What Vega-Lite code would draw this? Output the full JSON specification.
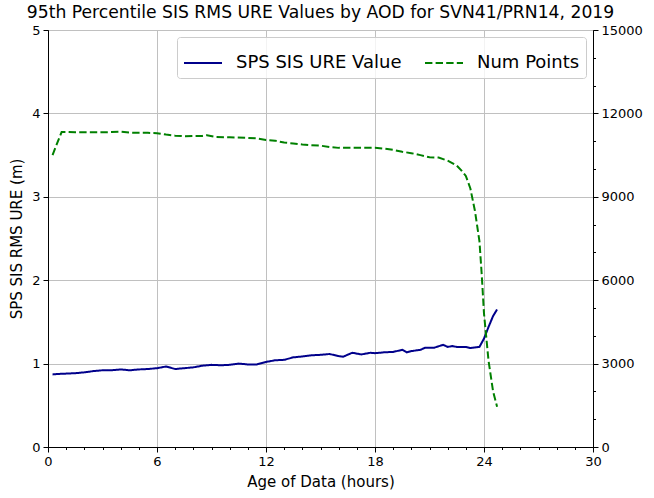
{
  "$schema": "https://vega.github.io/schema/vega-lite/v6.json",
  "width": 545,
  "height": 417,
  "autosize": {"type": "none"},
  "padding": {"left": 48, "top": 30, "right": 61, "bottom": 51},
  "title": {"text": "95th Percentile SIS RMS URE Values by AOD for SVN41/PRN14, 2019", "fontSize": 17.2, "fontWeight": "normal", "font": "DejaVu Sans", "color": "black", "anchor": "middle", "offset": 3},
  "datasets": {
    "ure": [
      {"h": 0.25, "v": 0.87, "series": "SPS SIS URE Value"},
      {"h": 0.5, "v": 0.875, "series": "SPS SIS URE Value"},
      {"h": 1.0, "v": 0.88, "series": "SPS SIS URE Value"},
      {"h": 1.5, "v": 0.885, "series": "SPS SIS URE Value"},
      {"h": 2.0, "v": 0.895, "series": "SPS SIS URE Value"},
      {"h": 2.5, "v": 0.91, "series": "SPS SIS URE Value"},
      {"h": 3.0, "v": 0.92, "series": "SPS SIS URE Value"},
      {"h": 3.5, "v": 0.92, "series": "SPS SIS URE Value"},
      {"h": 4.0, "v": 0.93, "series": "SPS SIS URE Value"},
      {"h": 4.5, "v": 0.92, "series": "SPS SIS URE Value"},
      {"h": 5.0, "v": 0.93, "series": "SPS SIS URE Value"},
      {"h": 5.5, "v": 0.935, "series": "SPS SIS URE Value"},
      {"h": 6.0, "v": 0.945, "series": "SPS SIS URE Value"},
      {"h": 6.5, "v": 0.965, "series": "SPS SIS URE Value"},
      {"h": 7.0, "v": 0.935, "series": "SPS SIS URE Value"},
      {"h": 7.5, "v": 0.945, "series": "SPS SIS URE Value"},
      {"h": 8.0, "v": 0.955, "series": "SPS SIS URE Value"},
      {"h": 8.5, "v": 0.975, "series": "SPS SIS URE Value"},
      {"h": 9.0, "v": 0.985, "series": "SPS SIS URE Value"},
      {"h": 9.5, "v": 0.98, "series": "SPS SIS URE Value"},
      {"h": 10.0, "v": 0.985, "series": "SPS SIS URE Value"},
      {"h": 10.5, "v": 1.0, "series": "SPS SIS URE Value"},
      {"h": 11.0, "v": 0.99, "series": "SPS SIS URE Value"},
      {"h": 11.5, "v": 0.99, "series": "SPS SIS URE Value"},
      {"h": 12.0, "v": 1.02, "series": "SPS SIS URE Value"},
      {"h": 12.5, "v": 1.04, "series": "SPS SIS URE Value"},
      {"h": 13.0, "v": 1.045, "series": "SPS SIS URE Value"},
      {"h": 13.5, "v": 1.075, "series": "SPS SIS URE Value"},
      {"h": 14.0, "v": 1.085, "series": "SPS SIS URE Value"},
      {"h": 14.5, "v": 1.1, "series": "SPS SIS URE Value"},
      {"h": 15.0, "v": 1.105, "series": "SPS SIS URE Value"},
      {"h": 15.5, "v": 1.115, "series": "SPS SIS URE Value"},
      {"h": 16.0, "v": 1.09, "series": "SPS SIS URE Value"},
      {"h": 16.25, "v": 1.083, "series": "SPS SIS URE Value"},
      {"h": 16.75, "v": 1.13, "series": "SPS SIS URE Value"},
      {"h": 17.25, "v": 1.11, "series": "SPS SIS URE Value"},
      {"h": 17.75, "v": 1.13, "series": "SPS SIS URE Value"},
      {"h": 18.0, "v": 1.125, "series": "SPS SIS URE Value"},
      {"h": 18.5, "v": 1.135, "series": "SPS SIS URE Value"},
      {"h": 19.0, "v": 1.14, "series": "SPS SIS URE Value"},
      {"h": 19.5, "v": 1.165, "series": "SPS SIS URE Value"},
      {"h": 19.75, "v": 1.135, "series": "SPS SIS URE Value"},
      {"h": 20.0, "v": 1.15, "series": "SPS SIS URE Value"},
      {"h": 20.5, "v": 1.165, "series": "SPS SIS URE Value"},
      {"h": 20.75, "v": 1.19, "series": "SPS SIS URE Value"},
      {"h": 21.25, "v": 1.19, "series": "SPS SIS URE Value"},
      {"h": 21.75, "v": 1.225, "series": "SPS SIS URE Value"},
      {"h": 22.0, "v": 1.2, "series": "SPS SIS URE Value"},
      {"h": 22.25, "v": 1.21, "series": "SPS SIS URE Value"},
      {"h": 22.5, "v": 1.2, "series": "SPS SIS URE Value"},
      {"h": 23.0, "v": 1.2, "series": "SPS SIS URE Value"},
      {"h": 23.25, "v": 1.187, "series": "SPS SIS URE Value"},
      {"h": 23.75, "v": 1.2, "series": "SPS SIS URE Value"},
      {"h": 24.0, "v": 1.3, "series": "SPS SIS URE Value"},
      {"h": 24.25, "v": 1.44, "series": "SPS SIS URE Value"},
      {"h": 24.5, "v": 1.57, "series": "SPS SIS URE Value"},
      {"h": 24.72, "v": 1.65, "series": "SPS SIS URE Value"}
    ],
    "num": [
      {"h": 0.25, "v": 10500, "series": "Num Points"},
      {"h": 0.5, "v": 10920, "series": "Num Points"},
      {"h": 0.75, "v": 11330, "series": "Num Points"},
      {"h": 1.0, "v": 11330, "series": "Num Points"},
      {"h": 1.5, "v": 11320, "series": "Num Points"},
      {"h": 2.0, "v": 11320, "series": "Num Points"},
      {"h": 3.0, "v": 11320, "series": "Num Points"},
      {"h": 3.5, "v": 11330, "series": "Num Points"},
      {"h": 4.0, "v": 11340, "series": "Num Points"},
      {"h": 4.5, "v": 11310, "series": "Num Points"},
      {"h": 5.0, "v": 11300, "series": "Num Points"},
      {"h": 5.5, "v": 11300, "series": "Num Points"},
      {"h": 6.0, "v": 11290, "series": "Num Points"},
      {"h": 6.5, "v": 11240, "series": "Num Points"},
      {"h": 7.0, "v": 11200, "series": "Num Points"},
      {"h": 7.5, "v": 11180, "series": "Num Points"},
      {"h": 8.0, "v": 11190, "series": "Num Points"},
      {"h": 8.5, "v": 11190, "series": "Num Points"},
      {"h": 8.75, "v": 11215, "series": "Num Points"},
      {"h": 9.25, "v": 11150, "series": "Num Points"},
      {"h": 10.0, "v": 11140, "series": "Num Points"},
      {"h": 11.0, "v": 11120, "series": "Num Points"},
      {"h": 11.5, "v": 11100, "series": "Num Points"},
      {"h": 12.0, "v": 11040, "series": "Num Points"},
      {"h": 12.5, "v": 11020, "series": "Num Points"},
      {"h": 13.0, "v": 10950, "series": "Num Points"},
      {"h": 13.5, "v": 10920, "series": "Num Points"},
      {"h": 14.0, "v": 10880, "series": "Num Points"},
      {"h": 14.5, "v": 10850, "series": "Num Points"},
      {"h": 15.0, "v": 10840, "series": "Num Points"},
      {"h": 15.5, "v": 10790, "series": "Num Points"},
      {"h": 16.0, "v": 10760, "series": "Num Points"},
      {"h": 17.0, "v": 10760, "series": "Num Points"},
      {"h": 18.0, "v": 10760, "series": "Num Points"},
      {"h": 18.5, "v": 10730, "series": "Num Points"},
      {"h": 19.0, "v": 10690, "series": "Num Points"},
      {"h": 19.5, "v": 10620, "series": "Num Points"},
      {"h": 20.0, "v": 10570, "series": "Num Points"},
      {"h": 20.5, "v": 10500, "series": "Num Points"},
      {"h": 21.0, "v": 10420, "series": "Num Points"},
      {"h": 21.5, "v": 10410, "series": "Num Points"},
      {"h": 22.0, "v": 10300, "series": "Num Points"},
      {"h": 22.5, "v": 10120, "series": "Num Points"},
      {"h": 22.75, "v": 9950, "series": "Num Points"},
      {"h": 23.0, "v": 9750, "series": "Num Points"},
      {"h": 23.25, "v": 9300, "series": "Num Points"},
      {"h": 23.5, "v": 8500, "series": "Num Points"},
      {"h": 23.75, "v": 7400, "series": "Num Points"},
      {"h": 23.875, "v": 6200, "series": "Num Points"},
      {"h": 24.0, "v": 4800, "series": "Num Points"},
      {"h": 24.25, "v": 3100, "series": "Num Points"},
      {"h": 24.5, "v": 2000, "series": "Num Points"},
      {"h": 24.72, "v": 1450, "series": "Num Points"}
    ]
  },
  "layer": [
    {
      "data": {"name": "ure"},
      "mark": {"type": "line", "strokeWidth": 2, "clip": true},
      "encoding": {
        "x": {"field": "h", "type": "quantitative", "scale": {"domain": [0, 30], "nice": false, "zero": true},
          "axis": {"title": "Age of Data (hours)", "values": [0,1,2,3,4,5,6,7,8,9,10,11,12,13,14,15,16,17,18,19,20,21,22,23,24,25,26,27,28,29,30],
            "tickCount": 40,
            "labelExpr": "datum.value % 6 === 0 ? datum.label : ''",
            "labelOverlap": false,
            "labelFlush": false,
            "tickSize": {"condition": {"test": "datum.value % 6 === 0", "value": 5}, "value": 2.5},
            "grid": true,
            "gridOpacity": {"condition": {"test": "datum.value % 6 === 0 && datum.value > 0 && datum.value < 30", "value": 1}, "value": 0},
            "labelPadding": 3, "titlePadding": 6, "titleFontSize": 15}},
        "y": {"field": "v", "type": "quantitative", "scale": {"domain": [0, 5], "nice": false},
          "axis": {"title": "SPS SIS RMS URE (m)", "orient": "left", "values": [0,1,2,3,4,5], "tickCount": 10, "format": "d", "grid": true, "tickSize": 5, "labelPadding": 3, "titlePadding": 7, "titleFontSize": 15, "labelFlush": false}},
        "color": {"field": "series", "type": "nominal", "scale": {"domain": ["SPS SIS URE Value", "Num Points"], "range": ["#00008b", "#008000"]},
          "legend": {"title": null, "orient": "top-right", "direction": "horizontal", "offset": 7, "fillColor": "rgba(255,255,255,0.8)", "strokeColor": "#cccccc", "cornerRadius": 3, "padding": 6, "symbolType": "stroke", "symbolSize": 1444, "symbolStrokeWidth": 2, "labelFontSize": 18, "labelOffset": 13, "labelLimit": 400, "columnPadding": 19, "labelColor": "black", "labelFont": "DejaVu Sans"}},
        "strokeDash": {"field": "series", "type": "nominal", "scale": {"domain": ["SPS SIS URE Value", "Num Points"], "range": [[1, 0], [7.4, 3.2]]},
          "legend": {"title": null, "orient": "top-right", "direction": "horizontal", "offset": 7, "fillColor": "rgba(255,255,255,0.8)", "strokeColor": "#cccccc", "cornerRadius": 3, "padding": 6, "symbolType": "stroke", "symbolSize": 1444, "symbolStrokeWidth": 2, "labelFontSize": 18, "labelOffset": 13, "labelLimit": 400, "columnPadding": 19, "labelColor": "black", "labelFont": "DejaVu Sans"}}
      }
    },
    {
      "data": {"name": "num"},
      "mark": {"type": "line", "strokeWidth": 2, "clip": true},
      "encoding": {
        "x": {"field": "h", "type": "quantitative"},
        "y": {"field": "v", "type": "quantitative", "scale": {"domain": [0, 15000], "nice": false},
          "axis": {"title": null, "orient": "right", "values": [0,1000,2000,3000,4000,5000,6000,7000,8000,9000,10000,11000,12000,13000,14000,15000], "format": "d",
            "tickCount": 40,
            "labelExpr": "datum.value % 3000 === 0 ? datum.label : ''",
            "labelOverlap": false,
            "labelFlush": false,
            "tickSize": {"condition": {"test": "datum.value % 3000 === 0", "value": 5}, "value": 2.5},
            "grid": false, "labelPadding": 3}},
        "color": {"field": "series", "type": "nominal"},
        "strokeDash": {"field": "series", "type": "nominal"}
      }
    }
  ],
  "resolve": {"scale": {"y": "independent"}},
  "config": {
    "font": "DejaVu Sans",
    "view": {"stroke": "black", "strokeWidth": 1},
    "axis": {"domainColor": "black", "domainWidth": 1, "tickColor": "black", "tickWidth": 1, "labelColor": "black", "titleColor": "black", "labelFontSize": 13, "titleFontSize": 13, "titleFontWeight": "normal", "labelFont": "DejaVu Sans", "titleFont": "DejaVu Sans", "gridColor": "#c0c0c0", "gridWidth": 1}
  }
}
